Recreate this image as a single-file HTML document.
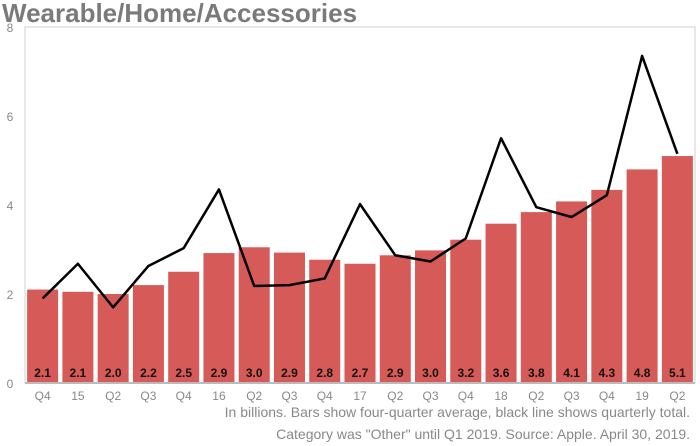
<!DOCTYPE html>
<html><head><meta charset="utf-8"><style>
body{margin:0;background:#fff;font-family:"Liberation Sans",sans-serif}
svg{display:block}
</style></head><body>
<svg id="c" width="700" height="446">
<text x="2" y="22" font-size="26" font-weight="bold" fill="#7a7a7a">Wearable/Home/Accessories</text>
<text x="690" y="417" font-size="14" fill="#888" text-anchor="end">In billions. Bars show four-quarter average, black line shows quarterly total.</text>
<text x="690" y="439" font-size="14" fill="#888" text-anchor="end">Category was "Other" until Q1 2019.  Source: Apple. April 30, 2019.</text>
</svg>
<script>
const categories=["Q4","15","Q2","Q3","Q4","16","Q2","Q3","Q4","17","Q2","Q3","Q4","18","Q2","Q3","Q4","19","Q2"];
const barValues=[2.1,2.05,2.0,2.2,2.5,2.92,3.05,2.93,2.77,2.68,2.87,2.98,3.22,3.58,3.84,4.08,4.34,4.8,5.1];
const barLabels=["2.1","2.1","2.0","2.2","2.5","2.9","3.0","2.9","2.8","2.7","2.9","3.0","3.2","3.6","3.8","4.1","4.3","4.8","5.1"];
const lineValues=[1.9,2.68,1.7,2.63,3.03,4.35,2.18,2.2,2.35,4.02,2.87,2.73,3.25,5.5,3.95,3.73,4.22,7.35,5.15];
const yTicks=[0,2,4,6,8];
const svg=document.getElementById('c');const NS='http://www.w3.org/2000/svg';
const X0=25,X1=695,Y0=383,Y1=27;
const step=(X1-X0)/categories.length, bw=31;
const x=i=>X0+step*(i+0.5);
const y=v=>Y0-(v/8)*(Y0-Y1);
function mk(t,a){const e=document.createElementNS(NS,t);for(const k in a)e.setAttribute(k,a[k]);svg.appendChild(e);return e;}
let e=mk('rect',{x:X0,y:Y1,width:X1-X0,height:Y0-Y1,fill:'none',stroke:'#d0d0d0','stroke-width':1});


yTicks.forEach(t=>{const tx=mk('text',{x:10,y:y(t)+5,'font-size':12,fill:'#888','text-anchor':'middle'});tx.textContent=t;

});
barValues.forEach((v,i)=>{const r=mk('rect',{x:x(i)-bw/2,y:y(v),width:bw,height:Y0-y(v),fill:'#d65a57'});


const l=mk('text',{x:x(i),y:377,'font-size':12,'font-weight':'bold',fill:'#111','text-anchor':'middle'});l.textContent=barLabels[i];


const c=mk('text',{x:x(i),y:400,'font-size':12,fill:'#888','text-anchor':'middle'});c.textContent=categories[i];

});
const ax=mk('line',{x1:X0,y1:Y0,x2:X1,y2:Y0,stroke:'#bbb','stroke-width':2});


const p=mk('polyline',{points:lineValues.map((v,i)=>x(i)+','+y(v)).join(' '),fill:'none',stroke:'#000','stroke-width':2.5,'stroke-linejoin':'round'});


</script>
</body></html>
